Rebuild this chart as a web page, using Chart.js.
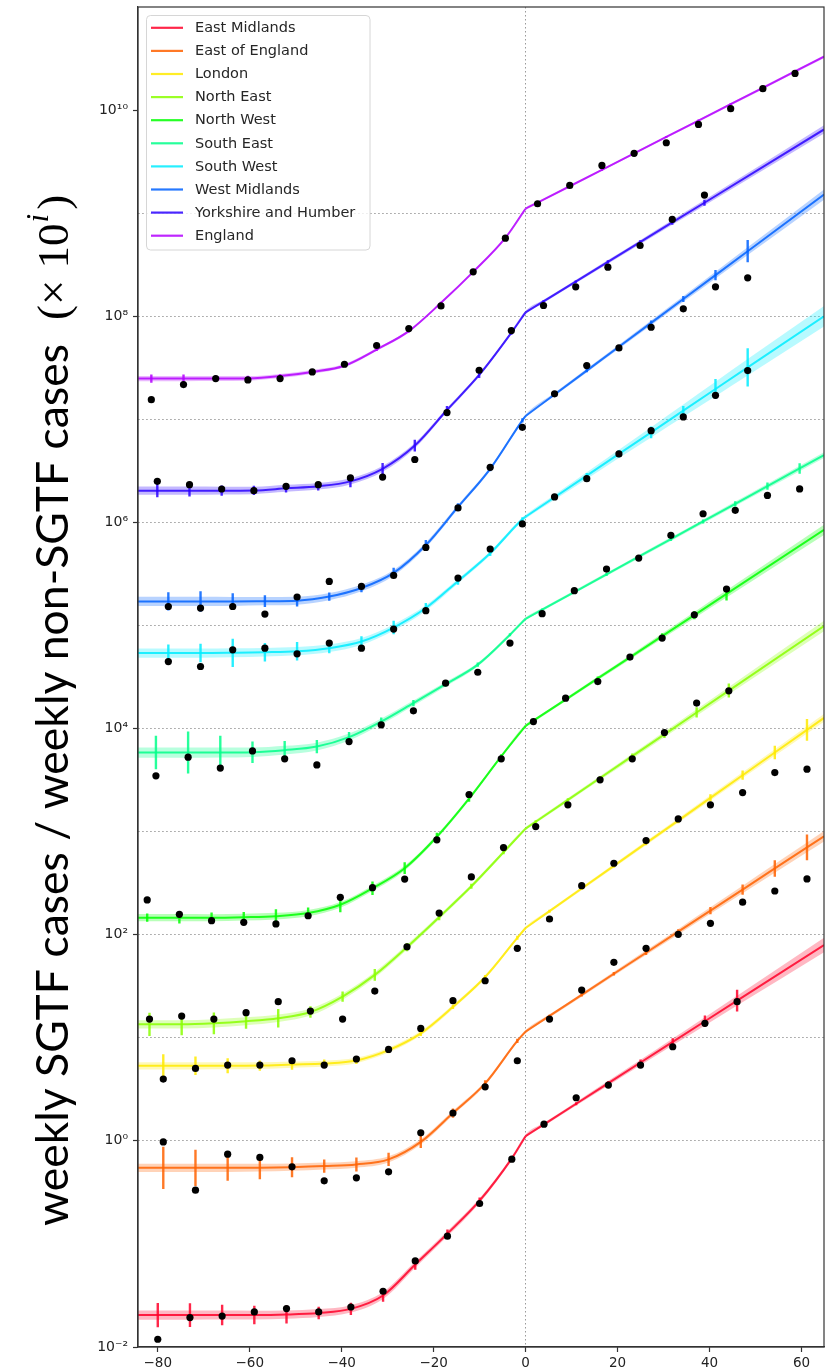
<!DOCTYPE html>
<html>
<head>
<meta charset="utf-8">
<script src="https://cdn.jsdelivr.net/npm/chart.js@4.4.1/dist/chart.umd.min.js"></script>
<style>
  html, body { margin: 0; padding: 0; background: #ffffff; }
  #wrap { width: 836px; height: 1370px; position: relative; }
</style>
</head>
<body>
<div id="wrap"><canvas id="chart" width="836" height="1370"></canvas></div>
<script>
// Regions, in legend order; region k is shifted up by 10^k on the shared log axis.
const regionNames = ['East Midlands', 'East of England', 'London', 'North East', 'North West',
                     'South East', 'South West', 'West Midlands', 'Yorkshire and Humber', 'England'];
const regionRGB = [[255, 0, 41], [255, 97, 0], [255, 234, 0], [138, 255, 0], [0, 255, 0],
                   [0, 255, 137], [0, 236, 255], [0, 97, 255], [42, 0, 255], [180, 0, 255]];

// Each row: [day, observed log10 ratio (shifted), fitted log10 ratio (shifted),
//            error-bar half width in decades, fit-band half width in decades]
const eastMidlands = [
  [-84.3, null, -1.69, null, 0.045], [-80, -1.925, -1.69, 0.118, 0.045], [-73, -1.715, -1.69, 0.115, 0.045],
  [-66, -1.70, -1.69, 0.10, 0.043], [-59, -1.66, -1.69, 0.09, 0.042], [-52, -1.627, -1.685, 0.087, 0.04],
  [-45, -1.66, -1.67, 0.06, 0.038], [-38, -1.612, -1.63, 0.06, 0.036], [-31, -1.459, -1.50, 0.06, 0.034],
  [-24, -1.165, -1.20, 0.05, 0.03], [-17, -0.925, -0.90, 0.04, 0.026], [-10, -0.608, -0.58, 0.03, 0.022],
  [-3, -0.178, -0.17, 0.02, 0.018], [0, null, 0.045, null, 0.016], [4, 0.162, 0.159, 0.012, 0.016],
  [11, 0.418, 0.36, 0.015, 0.018], [18, 0.541, 0.56, 0.02, 0.022], [25, 0.735, 0.76, 0.028, 0.027],
  [32, 0.913, 0.96, 0.035, 0.033], [39, 1.14, 1.16, 0.055, 0.04], [46, 1.35, 1.36, 0.105, 0.048],
  [64.9, null, 1.90, null, 0.07]
];
const eastOfEngland = [
  [-84.3, null, -0.262, null, 0.04], [-78.8, -0.01, -0.262, 0.205, 0.04], [-71.8, -0.479, -0.262, 0.175, 0.04],
  [-64.8, -0.129, -0.262, 0.126, 0.04], [-57.8, -0.161, -0.26, 0.113, 0.038], [-50.8, -0.252, -0.255, 0.097, 0.036],
  [-43.8, -0.388, -0.245, 0.065, 0.034], [-36.8, -0.359, -0.229, 0.068, 0.032], [-29.8, -0.301, -0.18, 0.065, 0.03],
  [-22.8, 0.078, -0.01, 0.06, 0.026], [-15.8, 0.27, 0.27, 0.045, 0.022], [-8.8, 0.524, 0.557, 0.03, 0.018],
  [-1.8, 0.777, 0.97, 0.02, 0.015], [0, null, 1.06, null, 0.015], [5.2, 1.181, 1.212, 0.012, 0.015],
  [12.2, 1.463, 1.416, 0.015, 0.017], [19.2, 1.732, 1.621, 0.018, 0.02], [26.2, 1.868, 1.825, 0.022, 0.023],
  [33.2, 2.004, 2.029, 0.025, 0.027], [40.2, 2.11, 2.234, 0.035, 0.032], [47.2, 2.315, 2.438, 0.05, 0.037],
  [54.2, 2.424, 2.643, 0.08, 0.042], [61.2, 2.541, 2.847, 0.125, 0.048], [64.9, null, 2.955, null, 0.05]
];
const london = [
  [-84.3, null, 0.728, null, 0.035], [-78.8, 0.599, 0.728, 0.113, 0.035], [-71.8, 0.703, 0.728, 0.09, 0.035],
  [-64.8, 0.735, 0.728, 0.073, 0.034], [-57.8, 0.735, 0.73, 0.05, 0.032], [-50.8, 0.777, 0.74, 0.05, 0.03],
  [-43.8, 0.735, 0.75, 0.04, 0.028], [-36.8, 0.794, 0.78, 0.035, 0.026], [-29.8, 0.887, 0.88, 0.03, 0.024],
  [-22.8, 1.091, 1.043, 0.025, 0.022], [-15.8, 1.36, 1.30, 0.02, 0.02], [-8.8, 1.553, 1.59, 0.02, 0.018],
  [-1.8, 1.868, 1.97, 0.02, 0.015], [0, null, 2.065, null, 0.015], [5.2, 2.152, 2.228, 0.015, 0.015],
  [12.2, 2.476, 2.448, 0.015, 0.016], [19.2, 2.693, 2.668, 0.018, 0.018], [26.2, 2.913, 2.888, 0.02, 0.02],
  [33.2, 3.123, 3.107, 0.025, 0.022], [40.2, 3.26, 3.327, 0.035, 0.025], [47.2, 3.379, 3.547, 0.045, 0.028],
  [54.2, 3.573, 3.767, 0.065, 0.032], [61.2, 3.606, 3.987, 0.105, 0.036], [64.9, null, 4.103, null, 0.038]
];
const northEast = [
  [-84.3, null, 1.13, null, 0.04], [-81.8, 1.181, 1.13, 0.113, 0.04], [-74.8, 1.21, 1.13, 0.105, 0.04],
  [-67.8, 1.181, 1.14, 0.105, 0.04], [-60.8, 1.243, 1.16, 0.073, 0.038], [-53.8, 1.35, 1.19, 0.09, 0.036],
  [-46.8, 1.259, 1.25, 0.056, 0.034], [-39.8, 1.181, 1.40, 0.05, 0.03], [-32.8, 1.453, 1.61, 0.057, 0.028],
  [-25.8, 1.883, 1.88, 0.04, 0.025], [-18.8, 2.21, 2.17, 0.03, 0.022], [-11.8, 2.56, 2.47, 0.025, 0.02],
  [-4.8, 2.845, 2.80, 0.02, 0.018], [0, null, 3.029, null, 0.016], [2.2, 3.049, 3.096, 0.015, 0.016],
  [9.2, 3.26, 3.308, 0.015, 0.018], [16.2, 3.502, 3.52, 0.02, 0.02], [23.2, 3.706, 3.732, 0.025, 0.024],
  [30.2, 3.961, 3.944, 0.035, 0.028], [37.2, 4.247, 4.156, 0.05, 0.032], [44.2, 4.366, 4.368, 0.068, 0.036],
  [64.9, null, 4.995, null, 0.05]
];
const northWest = [
  [-84.3, null, 2.165, null, 0.035], [-82.3, 2.337, 2.165, 0.04, 0.035], [-75.3, 2.198, 2.165, 0.057, 0.035],
  [-68.3, 2.136, 2.165, 0.05, 0.034], [-61.3, 2.12, 2.17, 0.05, 0.033], [-54.3, 2.104, 2.18, 0.068, 0.032],
  [-47.3, 2.184, 2.21, 0.055, 0.03], [-40.3, 2.363, 2.29, 0.073, 0.028], [-33.3, 2.456, 2.45, 0.065, 0.026],
  [-26.3, 2.54, 2.645, 0.057, 0.024], [-19.3, 2.92, 2.95, 0.04, 0.02], [-12.3, 3.36, 3.32, 0.03, 0.018],
  [-5.3, 3.706, 3.73, 0.02, 0.016], [0, null, 4.026, null, 0.015], [1.7, 4.068, 4.076, 0.012, 0.015],
  [8.7, 4.295, 4.281, 0.015, 0.016], [15.7, 4.456, 4.486, 0.018, 0.018], [22.7, 4.693, 4.691, 0.022, 0.021],
  [29.7, 4.878, 4.896, 0.028, 0.025], [36.7, 5.104, 5.101, 0.04, 0.03], [43.7, 5.353, 5.306, 0.065, 0.035],
  [64.9, null, 5.928, null, 0.05]
];
const southEast = [
  [-84.3, null, 3.767, null, 0.05], [-80.4, 3.541, 3.767, 0.162, 0.05], [-73.4, 3.722, 3.767, 0.204, 0.05],
  [-66.4, 3.616, 3.767, 0.162, 0.048], [-59.4, 3.783, 3.77, 0.105, 0.045], [-52.4, 3.706, 3.79, 0.09, 0.042],
  [-45.4, 3.647, 3.825, 0.065, 0.038], [-38.4, 3.874, 3.917, 0.05, 0.034], [-31.4, 4.036, 4.068, 0.04, 0.03],
  [-24.4, 4.172, 4.247, 0.03, 0.026], [-17.4, 4.44, 4.43, 0.025, 0.022], [-10.4, 4.546, 4.62, 0.02, 0.018],
  [-3.4, 4.829, 4.91, 0.015, 0.015], [0, null, 5.065, null, 0.014], [3.6, 5.114, 5.153, 0.012, 0.014],
  [10.6, 5.337, 5.324, 0.012, 0.015], [17.6, 5.547, 5.495, 0.014, 0.016], [24.6, 5.654, 5.667, 0.016, 0.017],
  [31.6, 5.874, 5.838, 0.018, 0.018], [38.6, 6.084, 6.009, 0.02, 0.02], [45.6, 6.117, 6.18, 0.025, 0.022],
  [52.6, 6.262, 6.352, 0.036, 0.024], [59.6, 6.325, 6.523, 0.05, 0.026], [64.9, null, 6.652, null, 0.028]
];
const southWest = [
  [-84.3, null, 4.732, null, 0.045], [-77.7, 4.65, 4.732, 0.084, 0.045], [-70.7, 4.602, 4.732, 0.09, 0.045],
  [-63.7, 4.764, 4.735, 0.137, 0.044], [-56.7, 4.78, 4.74, 0.09, 0.042], [-49.7, 4.725, 4.75, 0.09, 0.04],
  [-42.7, 4.829, 4.78, 0.05, 0.037], [-35.7, 4.78, 4.845, 0.05, 0.034], [-28.7, 4.965, 4.98, 0.065, 0.03],
  [-21.7, 5.143, 5.169, 0.05, 0.026], [-14.7, 5.46, 5.43, 0.035, 0.022], [-7.7, 5.742, 5.70, 0.025, 0.02],
  [-0.7, 5.985, 6.03, 0.02, 0.02], [0, null, 6.055, null, 0.02], [6.3, 6.247, 6.244, 0.02, 0.025],
  [13.3, 6.424, 6.454, 0.025, 0.032], [20.3, 6.664, 6.664, 0.035, 0.04], [27.3, 6.89, 6.874, 0.057, 0.05],
  [34.3, 7.023, 7.084, 0.045, 0.06], [41.3, 7.233, 7.294, 0.097, 0.07], [48.3, 7.473, 7.504, 0.186, 0.08],
  [64.9, null, 8.0, null, 0.1]
];
const westMidlands = [
  [-84.3, null, 5.233, null, 0.045], [-77.7, 5.184, 5.233, 0.089, 0.045], [-70.7, 5.169, 5.233, 0.1, 0.045],
  [-63.7, 5.184, 5.233, 0.08, 0.043], [-56.7, 5.11, 5.235, 0.057, 0.04], [-49.7, 5.276, 5.24, 0.057, 0.038],
  [-42.7, 5.427, 5.28, 0.04, 0.035], [-35.7, 5.379, 5.363, 0.04, 0.032], [-28.7, 5.485, 5.51, 0.05, 0.028],
  [-21.7, 5.757, 5.78, 0.05, 0.024], [-14.7, 6.14, 6.15, 0.035, 0.02], [-7.7, 6.534, 6.52, 0.025, 0.017],
  [-0.7, 6.922, 6.99, 0.02, 0.015], [0, null, 7.032, null, 0.015], [6.3, 7.247, 7.241, 0.015, 0.016],
  [13.3, 7.521, 7.472, 0.015, 0.018], [20.3, 7.693, 7.704, 0.018, 0.02], [27.3, 7.893, 7.936, 0.022, 0.023],
  [34.3, 8.072, 8.167, 0.03, 0.027], [41.3, 8.285, 8.399, 0.049, 0.032], [48.3, 8.373, 8.631, 0.108, 0.038],
  [64.9, null, 9.18, null, 0.05]
];
const yorkshireHumber = [
  [-84.3, null, 6.308, null, 0.04], [-80.1, 6.398, 6.308, 0.065, 0.04], [-73.1, 6.366, 6.308, 0.057, 0.04],
  [-66.1, 6.324, 6.308, 0.05, 0.038], [-59.1, 6.308, 6.31, 0.045, 0.036], [-52.1, 6.35, 6.33, 0.04, 0.034],
  [-45.1, 6.366, 6.35, 0.04, 0.032], [-38.1, 6.431, 6.398, 0.057, 0.03], [-31.1, 6.44, 6.52, 0.057, 0.028],
  [-24.1, 6.61, 6.745, 0.057, 0.025], [-17.1, 7.065, 7.09, 0.04, 0.02], [-10.1, 7.476, 7.43, 0.03, 0.017],
  [-3.1, 7.861, 7.84, 0.02, 0.015], [0, null, 8.037, null, 0.015], [3.9, 8.104, 8.144, 0.012, 0.015],
  [10.9, 8.285, 8.335, 0.012, 0.016], [17.9, 8.476, 8.527, 0.015, 0.018], [24.9, 8.686, 8.718, 0.018, 0.02],
  [31.9, 8.939, 8.91, 0.022, 0.023], [38.9, 9.175, 9.101, 0.03, 0.026], [64.9, null, 9.812, null, 0.04]
];
const england = [
  [-84.3, null, 7.395, null, 0.025], [-81.4, 7.19, 7.395, 0.04, 0.025], [-74.4, 7.337, 7.395, 0.04, 0.025],
  [-67.4, 7.395, 7.395, 0.03, 0.024], [-60.4, 7.382, 7.397, 0.025, 0.022], [-53.4, 7.395, 7.42, 0.02, 0.02],
  [-46.4, 7.46, 7.46, 0.02, 0.018], [-39.4, 7.534, 7.52, 0.015, 0.016], [-32.4, 7.716, 7.677, 0.015, 0.014],
  [-25.4, 7.88, 7.855, 0.012, 0.012], [-18.4, 8.10, 8.13, 0.01, 0.01], [-11.4, 8.431, 8.43, 0.01, 0.01],
  [-4.4, 8.757, 8.76, 0.008, 0.008], [0, null, 9.043, null, 0.008], [2.6, 9.091, 9.102, 0.008, 0.008],
  [9.6, 9.269, 9.261, 0.008, 0.008], [16.6, 9.463, 9.42, 0.008, 0.008], [23.6, 9.58, 9.579, 0.008, 0.009],
  [30.6, 9.683, 9.739, 0.008, 0.01], [37.6, 9.861, 9.898, 0.01, 0.011], [44.6, 10.014, 10.057, 0.01, 0.012],
  [51.6, 10.208, 10.216, 0.012, 0.013], [58.6, 10.356, 10.375, 0.014, 0.014], [64.9, null, 10.518, null, 0.015]
];

const xTickValues = [-80, -60, -40, -20, 0, 20, 40, 60];
const yTickExponents = [-2, -1, 0, 1, 2, 3, 4, 5, 6, 7, 8, 9, 10, 11];
const dayRange = [-84.3, 64.9];

const regionTables = [eastMidlands, eastOfEngland, london, northEast, northWest,
                      southEast, southWest, westMidlands, yorkshireHumber, england];

const rgba = (c, a) => `rgba(${c[0]},${c[1]},${c[2]},${a})`;
const pt = (x, e) => ({ x: x, y: Math.pow(10, e) });

const datasets = [];
regionTables.forEach((rows, r) => {
  const c = regionRGB[r];
  // uncertainty band around the fit
  datasets.push({
    type: 'line', label: regionNames[r] + ' band hi', data: rows.map(w => pt(w[0], w[2] + w[4])),
    fill: '+1', backgroundColor: rgba(c, 0.28), borderWidth: 0, pointRadius: 0,
    cubicInterpolationMode: 'monotone', order: 4
  });
  datasets.push({
    type: 'line', label: regionNames[r] + ' band lo', data: rows.map(w => pt(w[0], w[2] - w[4])),
    fill: false, borderWidth: 0, pointRadius: 0, cubicInterpolationMode: 'monotone', order: 4
  });
  // fitted curve: smooth before day 0, straight after the break
  datasets.push({
    type: 'line', label: regionNames[r], data: rows.filter(w => w[0] <= 0).map(w => pt(w[0], w[2])),
    borderColor: rgba(c, 0.85), borderWidth: 2, pointRadius: 0, fill: false,
    cubicInterpolationMode: 'monotone', order: 3
  });
  datasets.push({
    type: 'line', label: regionNames[r] + ' after', data: rows.filter(w => w[0] >= 0).map(w => pt(w[0], w[2])),
    borderColor: rgba(c, 0.85), borderWidth: 2, pointRadius: 0, fill: false, tension: 0, order: 3
  });
  // vertical error bars on the fit at each observation day
  const bars = [];
  rows.forEach(w => {
    if (w[3] !== null) {
      bars.push(pt(w[0], w[2] - w[3]), pt(w[0], w[2] + w[3]), { x: w[0], y: null });
    }
  });
  datasets.push({
    type: 'line', label: regionNames[r] + ' error', data: bars, spanGaps: false,
    borderColor: rgba(c, 0.85), borderWidth: 2.4, pointRadius: 0, fill: false, tension: 0, order: 2
  });
  // weekly observations
  datasets.push({
    type: 'scatter', label: regionNames[r] + ' observed',
    data: rows.filter(w => w[1] !== null).map(w => pt(w[0], w[1])),
    backgroundColor: '#000000', borderWidth: 0, pointRadius: 3.6, order: 1
  });
});

const supDigits = { '-': '\u207B', '0': '\u2070', '1': '\u00B9', '2': '\u00B2', '3': '\u00B3', '4': '\u2074',
                    '5': '\u2075', '6': '\u2076', '7': '\u2077', '8': '\u2078', '9': '\u2079' };
const powerLabel = e => '10' + String(e).split('').map(ch => supDigits[ch]).join('');
const expOf = v => Math.round(Math.log10(v));

// outer frame of the plotting area
const framePlugin = {
  id: 'frame',
  afterDraw(chart) {
    const { ctx, chartArea: a } = chart;
    ctx.save();
    ctx.strokeStyle = '#333333';
    ctx.lineWidth = 1.2;
    ctx.strokeRect(a.left, a.top, a.right - a.left, a.bottom - a.top);
    ctx.restore();
  }
};

// legend box in the upper left corner of the plot
const legendPlugin = {
  id: 'cornerLegend',
  afterDraw(chart) {
    const ctx = chart.ctx;
    const a = chart.chartArea;
    const x0 = a.left + 8.5, y0 = a.top + 8.5, w = 223.5, h = 234.5;
    ctx.save();
    ctx.beginPath();
    ctx.roundRect(x0, y0, w, h, 4);
    ctx.fillStyle = 'rgba(255,255,255,0.8)';
    ctx.fill();
    ctx.strokeStyle = '#d6d6d6';
    ctx.lineWidth = 1;
    ctx.stroke();
    ctx.font = '14.5px "DejaVu Sans"';
    ctx.textBaseline = 'middle';
    ctx.textAlign = 'left';
    regionNames.forEach((name, k) => {
      const y = y0 + 12.3 + k * 23.1;
      ctx.beginPath();
      ctx.moveTo(x0 + 4.5, y);
      ctx.lineTo(x0 + 36.5, y);
      ctx.strokeStyle = rgba(regionRGB[k], 0.85);
      ctx.lineWidth = 2.2;
      ctx.stroke();
      ctx.fillStyle = '#262626';
      ctx.fillText(name, x0 + 48.5, y + 0.5);
    });
    ctx.restore();
  }
};

// rotated y axis title with a mathematical multiplier
const yTitlePlugin = {
  id: 'yTitle',
  afterDraw(chart) {
    const ctx = chart.ctx;
    ctx.save();
    ctx.translate(68, 1226);
    ctx.rotate(-Math.PI / 2);
    ctx.fillStyle = '#000000';
    ctx.textBaseline = 'alphabetic';
    ctx.textAlign = 'left';
    let x = 0;
    ctx.font = '44.5px Lato';
    const mainText = 'weekly SGTF cases / weekly non-SGTF cases';
    ctx.fillText(mainText, x, 0);
    x += ctx.measureText(mainText).width + 24;
    ctx.font = '45px "Liberation Serif"';
    const lead = '(\u00D7 10';
    ctx.fillText(lead, x, 0);
    x += ctx.measureText(lead).width + 1;
    ctx.font = 'italic 31px "Liberation Serif"';
    ctx.fillText('i', x, -20);
    x += ctx.measureText('i').width + 4;
    ctx.font = '45px "Liberation Serif"';
    ctx.fillText(')', x, 0);
    ctx.restore();
  }
};

new Chart(document.getElementById('chart'), {
  type: 'line',
  data: { datasets: datasets },
  options: {
    responsive: false,
    animation: false,
    devicePixelRatio: 1,
    layout: { padding: { top: 7, right: 12, left: 0, bottom: 0 } },
    plugins: {
      legend: { display: false },
      tooltip: { enabled: false }
    },
    scales: {
      x: {
        type: 'linear',
        min: dayRange[0],
        max: dayRange[1],
        afterBuildTicks: s => { s.ticks = xTickValues.map(v => ({ value: v })); },
        afterFit: s => { s.height = 23; },
        ticks: {
          autoSkip: false, maxRotation: 0, padding: 3, color: '#222222',
          font: { family: 'DejaVu Sans', size: 13.5 },
          callback: v => String(v).replace('-', '\u2212')
        },
        grid: {
          color: c => (c.tick && c.tick.value === 0) ? '#9a9a9a' : 'rgba(0,0,0,0)',
          lineWidth: 1, tickLength: 5, tickColor: '#333333', tickWidth: 1.2
        },
        border: { display: true, color: '#333333', width: 1.2, dash: [1.5, 2.5] }
      },
      y: {
        type: 'logarithmic',
        min: 1e-2,
        max: 1e11,
        afterBuildTicks: s => { s.ticks = yTickExponents.map(e => ({ value: Math.pow(10, e) })); },
        afterFit: s => { s.width = 138; s.paddingTop = 0; s.paddingBottom = 0; },
        ticks: {
          autoSkip: false, padding: 5, color: '#222222',
          font: { family: 'DejaVu Sans', size: 14 },
          callback: v => { const e = expOf(v); return (e % 2 === 0 && e <= 10) ? powerLabel(e) : ''; }
        },
        grid: {
          color: c => { if (!c.tick) return 'rgba(0,0,0,0)'; const e = expOf(c.tick.value); return (e >= 0 && e <= 9) ? '#9a9a9a' : 'rgba(0,0,0,0)'; },
          tickColor: c => { if (!c.tick) return 'rgba(0,0,0,0)'; const e = expOf(c.tick.value); return (e % 2 === 0 && e <= 10) ? '#333333' : 'rgba(0,0,0,0)'; },
          lineWidth: 1, tickLength: 5, tickWidth: 1.2
        },
        border: { display: true, color: '#333333', width: 1.2, dash: [1.5, 2.5] }
      }
    }
  },
  plugins: [framePlugin, legendPlugin, yTitlePlugin]
});
</script>
</body>
</html>
